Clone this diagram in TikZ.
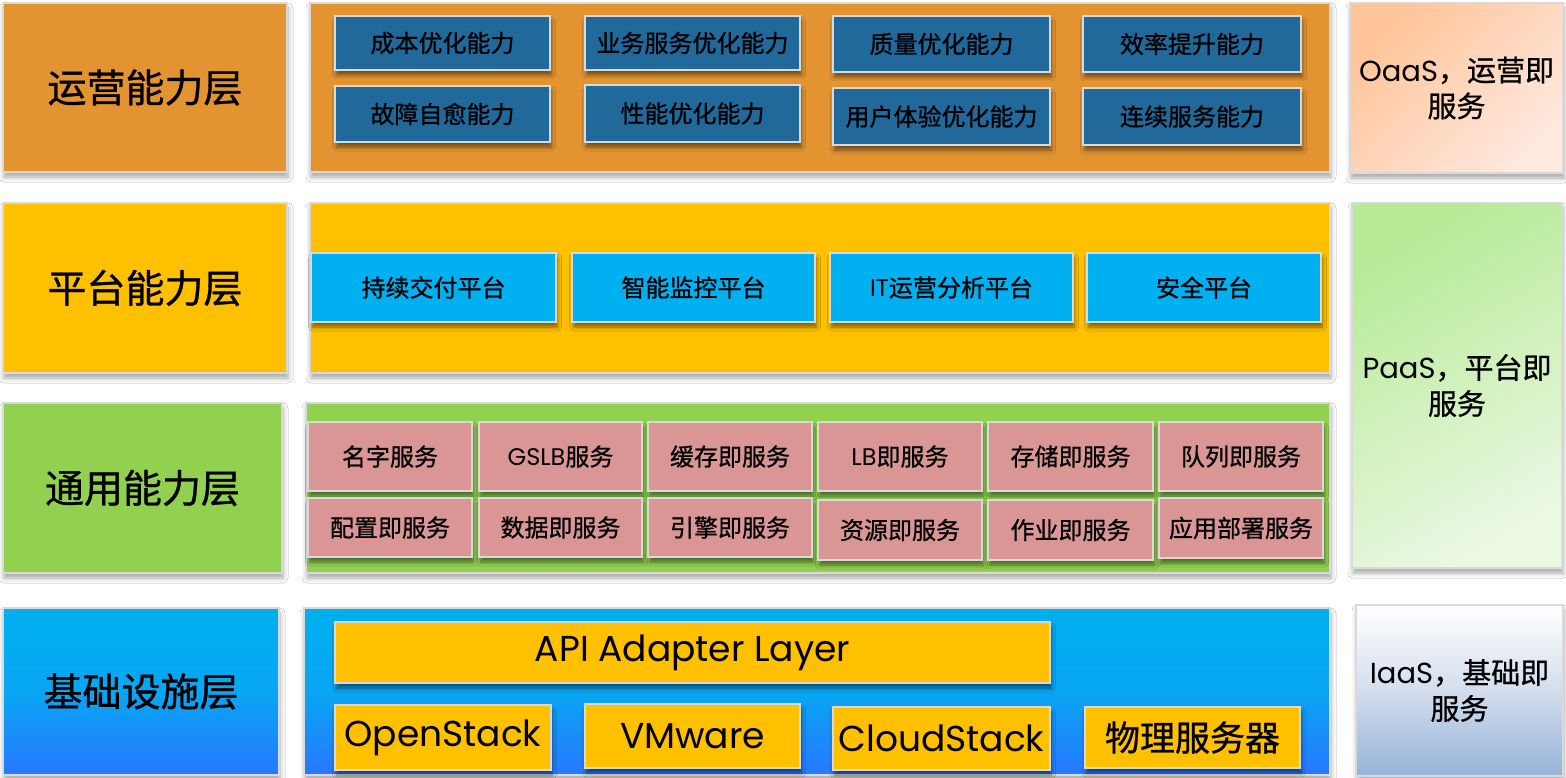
\documentclass[tikz,border=0pt]{standalone}
\usepackage{fontspec}
\setmainfont{Noto Sans CJK SC}[RawFeature={embolden=0.8}]
\newfontfamily\lat{Poppins}
\usetikzlibrary{shadows.blur}

\definecolor{bord}{HTML}{D9D9D9}
\definecolor{opsorange}{HTML}{E39430}
\definecolor{opsblue}{HTML}{21699A}
\definecolor{platyellow}{HTML}{FFC000}
\definecolor{platcyan}{HTML}{00B0F0}
\definecolor{commgreen}{HTML}{92D050}
\definecolor{commpink}{HTML}{DA9694}
\definecolor{infratop}{HTML}{00B0F0}
\definecolor{inframid}{HTML}{08A6F3}
\definecolor{infrabot}{HTML}{2878FF}
\definecolor{oaasA}{HTML}{FFC498}
\definecolor{oaasB}{HTML}{FFE8DE}
\definecolor{paasA}{HTML}{B6EA96}
\definecolor{paasB}{HTML}{EBF8E4}
\definecolor{iaasmid}{HTML}{D3DEED}
\definecolor{iaasbot}{HTML}{95B3D7}

% a box given by its corners (x1,y1)-(x2,y2), in pixel-like units
\newcommand\rbox[7]{%
  \node[#1, minimum width={(#5-#3)*1pt}, minimum height={(#6-#4)*1pt}]
    (#2) at ({(#3+#5)/2},{(#4+#6)/2}) {#7};}

\tikzset{
  base/.style={draw=bord, inner sep=0pt, align=center, text=black},
  outer/.style={base, line width=2.6pt,
    blur shadow={shadow xshift=1pt, shadow yshift=-5pt,
      shadow blur radius=5pt, shadow opacity=35}},
  inner/.style={base, line width=2.2pt,
    blur shadow={shadow xshift=1.5pt, shadow yshift=-5pt,
      shadow blur radius=4pt, shadow opacity=50}},
  layer/.style={outer, font=\fontsize{39}{46}\selectfont},
  svc/.style={outer, font=\fontsize{29}{36}\selectfont},
  item/.style={inner, font=\fontsize{24}{28}\selectfont},
  big/.style={inner, font=\fontsize{35}{40}\selectfont},
  bigl/.style={inner, font=\lat\fontsize{36}{40}\selectfont},
  infra/.style={top color=infratop, bottom color=infrabot, middle color=inframid},
}

\begin{document}
\begin{tikzpicture}[x=1pt, y=-1pt]
\useasboundingbox[fill=white] (0,0) rectangle (1566,778);

% operations layer
\rbox{layer, fill=opsorange}{opsL}{3}{3}{287}{172}{运营能力层}
\rbox{outer, fill=opsorange}{opsM}{310}{3}{1330}{172}{}
\rbox{item, fill=opsblue}{o1}{335}{16}{550}{70}{成本优化能力}
\rbox{item, fill=opsblue}{o2}{585}{16}{800}{70}{业务服务优化能力}
\rbox{item, fill=opsblue}{o3}{833}{16}{1050}{72}{质量优化能力}
\rbox{item, fill=opsblue}{o4}{1083}{16}{1301}{72}{效率提升能力}
\rbox{item, fill=opsblue}{o5}{335}{86}{550}{142}{故障自愈能力}
\rbox{item, fill=opsblue}{o6}{585}{85}{800}{142}{性能优化能力}
\rbox{item, fill=opsblue}{o7}{833}{88}{1050}{145}{用户体验优化能力}
\rbox{item, fill=opsblue}{o8}{1083}{88}{1301}{145}{连续服务能力}

% platform layer
\rbox{layer, fill=platyellow}{platL}{3}{203}{287}{373}{平台能力层}
\rbox{outer, fill=platyellow}{platM}{310}{203}{1330}{373}{}
\rbox{item, fill=platcyan}{p1}{311}{253}{556}{322}{持续交付平台}
\rbox{item, fill=platcyan}{p2}{572}{253}{815}{322}{智能监控平台}
\rbox{item, fill=platcyan}{p3}{830}{253}{1073}{322}{{\lat IT}运营分析平台}
\rbox{item, fill=platcyan}{p4}{1087}{253}{1321}{322}{安全平台}

% common layer
\rbox{layer, fill=commgreen}{comL}{3}{403}{282}{573}{通用能力层}
\rbox{outer, fill=commgreen}{comM}{306}{403}{1330}{573}{}
\rbox{item, fill=commpink}{c1}{308}{422}{472}{491}{名字服务}
\rbox{item, fill=commpink}{c2}{479}{422}{642}{491}{{\lat GSLB}服务}
\rbox{item, fill=commpink}{c3}{648}{422}{812}{491}{缓存即服务}
\rbox{item, fill=commpink}{c4}{818}{422}{982}{491}{{\lat LB}即服务}
\rbox{item, fill=commpink}{c5}{988}{422}{1153}{491}{存储即服务}
\rbox{item, fill=commpink}{c6}{1159}{422}{1323}{491}{队列即服务}
\rbox{item, fill=commpink}{c7}{308}{498}{472}{557}{配置即服务}
\rbox{item, fill=commpink}{c8}{479}{498}{642}{557}{数据即服务}
\rbox{item, fill=commpink}{c9}{648}{498}{812}{557}{引擎即服务}
\rbox{item, fill=commpink}{c10}{818}{500}{982}{560}{资源即服务}
\rbox{item, fill=commpink}{c11}{988}{500}{1153}{560}{作业即服务}
\rbox{item, fill=commpink}{c12}{1159}{498}{1323}{558}{应用部署服务}

% infrastructure layer
\rbox{layer, infra}{infL}{3}{608}{279}{775}{基础设施层}
\rbox{outer, infra}{infM}{304}{608}{1330}{775}{}
\rbox{inner, fill=platyellow, font=\lat\fontsize{36}{40}\selectfont}{api}{335}{622}{1050}{683}{API Adapter Layer}
\rbox{bigl, fill=platyellow}{os}{335}{705}{551}{770}{OpenStack}
\rbox{bigl, fill=platyellow}{vm}{585}{704}{800}{768}{VMware}
\rbox{bigl, fill=platyellow}{cs}{833}{707}{1050}{770}{CloudStack}
\rbox{big, fill=platyellow}{pm}{1085}{707}{1300}{768}{物理服务器}

% service models
\rbox{svc, top color=oaasA, bottom color=oaasB, shading angle=45}{oaas}{1350}{3}{1563}{173}{{\lat OaaS}，运营即\\服务}
\rbox{svc, top color=paasA, bottom color=paasB, shading angle=30}{paas}{1352}{203}{1562}{568}{{\lat PaaS}，平台即\\服务}
\rbox{svc, top color=white, bottom color=iaasbot, middle color=iaasmid}{iaas}{1356}{605}{1563}{776}{{\lat IaaS}，基础即\\服务}
\end{tikzpicture}
\end{document}
